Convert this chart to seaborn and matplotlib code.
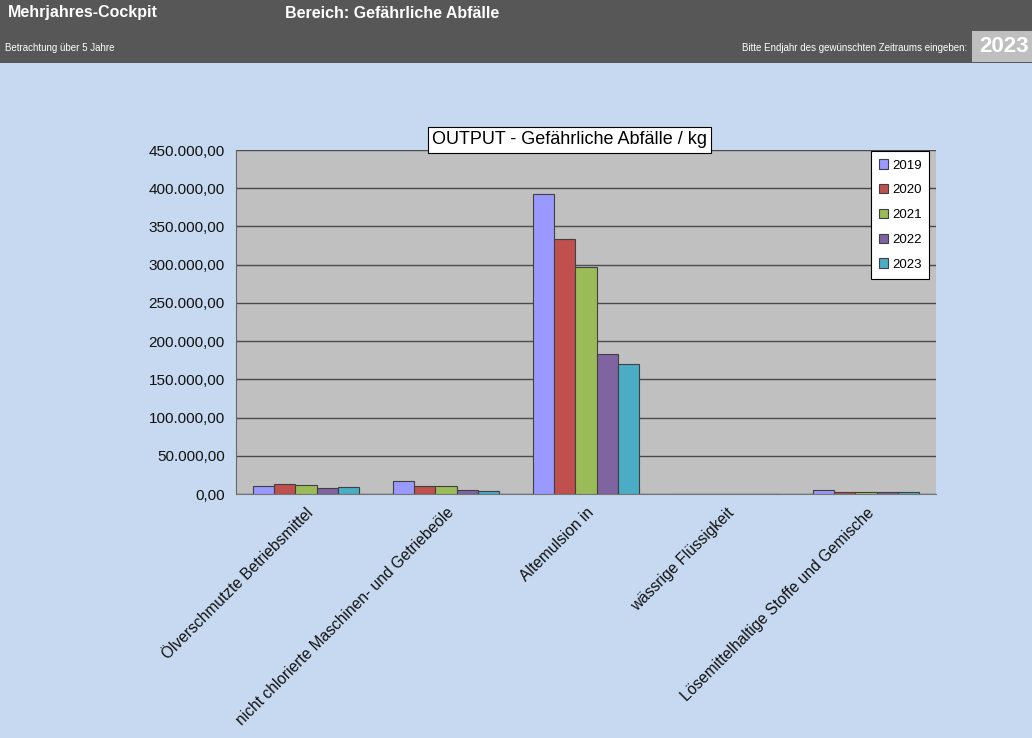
import matplotlib
matplotlib.use("Agg")
import matplotlib.pyplot as plt
from matplotlib.patches import Rectangle
from matplotlib.ticker import FuncFormatter, FixedLocator
import seaborn as sns
import pandas as pd

# Waste categories and yearly amounts in kg
categories = [
    "Ölverschmutzte Betriebsmittel",
    "nicht chlorierte Maschinen- und Getriebeöle",
    "Altemulsion in",
    "wässrige Flüssigkeit",
    "Lösemittelhaltige Stoffe und Gemische",
]
years = ["2019", "2020", "2021", "2022", "2023"]
values_2019 = [10500, 16500, 392000, 0, 4700]
values_2020 = [13500, 10500, 334000, 0, 3000]
values_2021 = [11800, 10800, 297000, 0, 3000]
values_2022 = [7500, 5800, 183000, 0, 3000]
values_2023 = [9500, 4000, 170000, 0, 2600]
y_ticks = [0, 50000, 100000, 150000, 200000, 250000, 300000, 350000, 400000, 450000]

series = [values_2019, values_2020, values_2021, values_2022, values_2023]
rows = []
for year, vals in zip(years, series):
    for cat, v in zip(categories, vals):
        rows.append({"Kategorie": cat, "Jahr": year, "kg": v})
df = pd.DataFrame(rows)

palette = ["#9999FF", "#C0504D", "#9BBB59", "#8064A2", "#4BACC6"]
page_bg = "#C6D9F0"
plot_bg = "#C0C0C0"

sns.set_style("white")
plt.rcParams["font.family"] = ["Liberation Sans", "DejaVu Sans"]
plt.rcParams["text.color"] = "black"
plt.rcParams["xtick.color"] = "black"
plt.rcParams["ytick.color"] = "black"

fig = plt.figure(figsize=(10.32, 7.38), dpi=100)
fig.patch.set_facecolor(page_bg)

# Header band
fig.patches.append(Rectangle((0, 1 - 63 / 738), 1, 63 / 738, transform=fig.transFigure,
                             facecolor="#575757", edgecolor="none", zorder=0))
narrow = ["Liberation Sans Narrow", "Liberation Sans", "DejaVu Sans"]
fig.text(8 / 1032, 1 - 13 / 738, "Mehrjahres-Cockpit", color="white", fontsize=11.5,
         fontweight="bold", family=narrow, va="center", ha="left")
fig.text(285 / 1032, 1 - 13 / 738, "Bereich: Gefährliche Abfälle", color="white", fontsize=11.5,
         fontweight="bold", family=narrow, va="center", ha="left")
fig.text(5 / 1032, 1 - 48 / 738, "Betrachtung über 5 Jahre", color="white", fontsize=7,
         family=narrow, va="center", ha="left")
fig.text(967 / 1032, 1 - 48 / 738, "Bitte Endjahr des gewünschten Zeitraums eingeben:",
         color="white", fontsize=7, family=narrow, va="center", ha="right")
fig.patches.append(Rectangle((972 / 1032, 1 - 62 / 738), 60 / 1032, 31 / 738,
                             transform=fig.transFigure, facecolor="#BFBFBF",
                             edgecolor="none", zorder=1))
fig.text(1004 / 1032, 1 - 47 / 738, "2023", color="white", fontsize=16, fontweight="bold",
         family=narrow, va="center", ha="center", zorder=2)

ax = fig.add_axes([236 / 1032, 1 - 494 / 738, 700 / 1032, 344 / 738])
ax.set_facecolor(plot_bg)

sns.barplot(data=df, x="Kategorie", y="kg", hue="Jahr", palette=palette, width=0.76,
            gap=0, saturation=1, edgecolor="#404040", linewidth=0.8, ax=ax, zorder=3,
            errorbar=None)

ax.set_xlim(-0.5, len(categories) - 0.5)
ax.set_ylim(0, 450000)
ax.set_yticks(y_ticks)
ax.yaxis.set_major_formatter(FuncFormatter(
    lambda v, _: f"{v:,.2f}".replace(",", "X").replace(".", ",").replace("X", ".")))
ax.yaxis.grid(True, color="#4A4A4A", linewidth=1.0, zorder=1)
ax.set_axisbelow(True)
ax.tick_params(axis="y", labelsize=11, length=4, color="#555555", labelcolor="#111111",
               direction="out", pad=4)

ax.set_xticks(range(len(categories)))
ax.set_xticklabels(categories, rotation=45, ha="right", va="top", rotation_mode="anchor",
                   fontsize=11.2, color="#111111")
ax.tick_params(axis="x", length=0, pad=8)
ax.xaxis.set_minor_locator(FixedLocator([i - 0.5 for i in range(len(categories) + 1)]))
ax.tick_params(axis="x", which="minor", length=4, color="#555555", direction="out")

ax.set_xlabel("")
ax.set_ylabel("")
for side in ["top", "right"]:
    ax.spines[side].set_visible(False)
ax.spines["left"].set_color("#666666")
ax.spines["bottom"].set_color("#777777")

leg = ax.legend(loc="upper right", bbox_to_anchor=(1.0, 1.015), fontsize=9.5,
                frameon=True, fancybox=False, framealpha=1, edgecolor="black",
                handlelength=0.7, handleheight=0.7, handletextpad=0.3,
                labelspacing=0.95, borderpad=0.6, title=None)
leg.get_frame().set_linewidth(0.8)

ax.set_title("OUTPUT - Gefährliche Abfälle / kg", fontsize=13, pad=4, color="black",
             x=0.476,
             bbox=dict(facecolor="white", edgecolor="black", linewidth=0.8, pad=3))

fig.savefig("out.png", dpi=100, facecolor=fig.get_facecolor())
